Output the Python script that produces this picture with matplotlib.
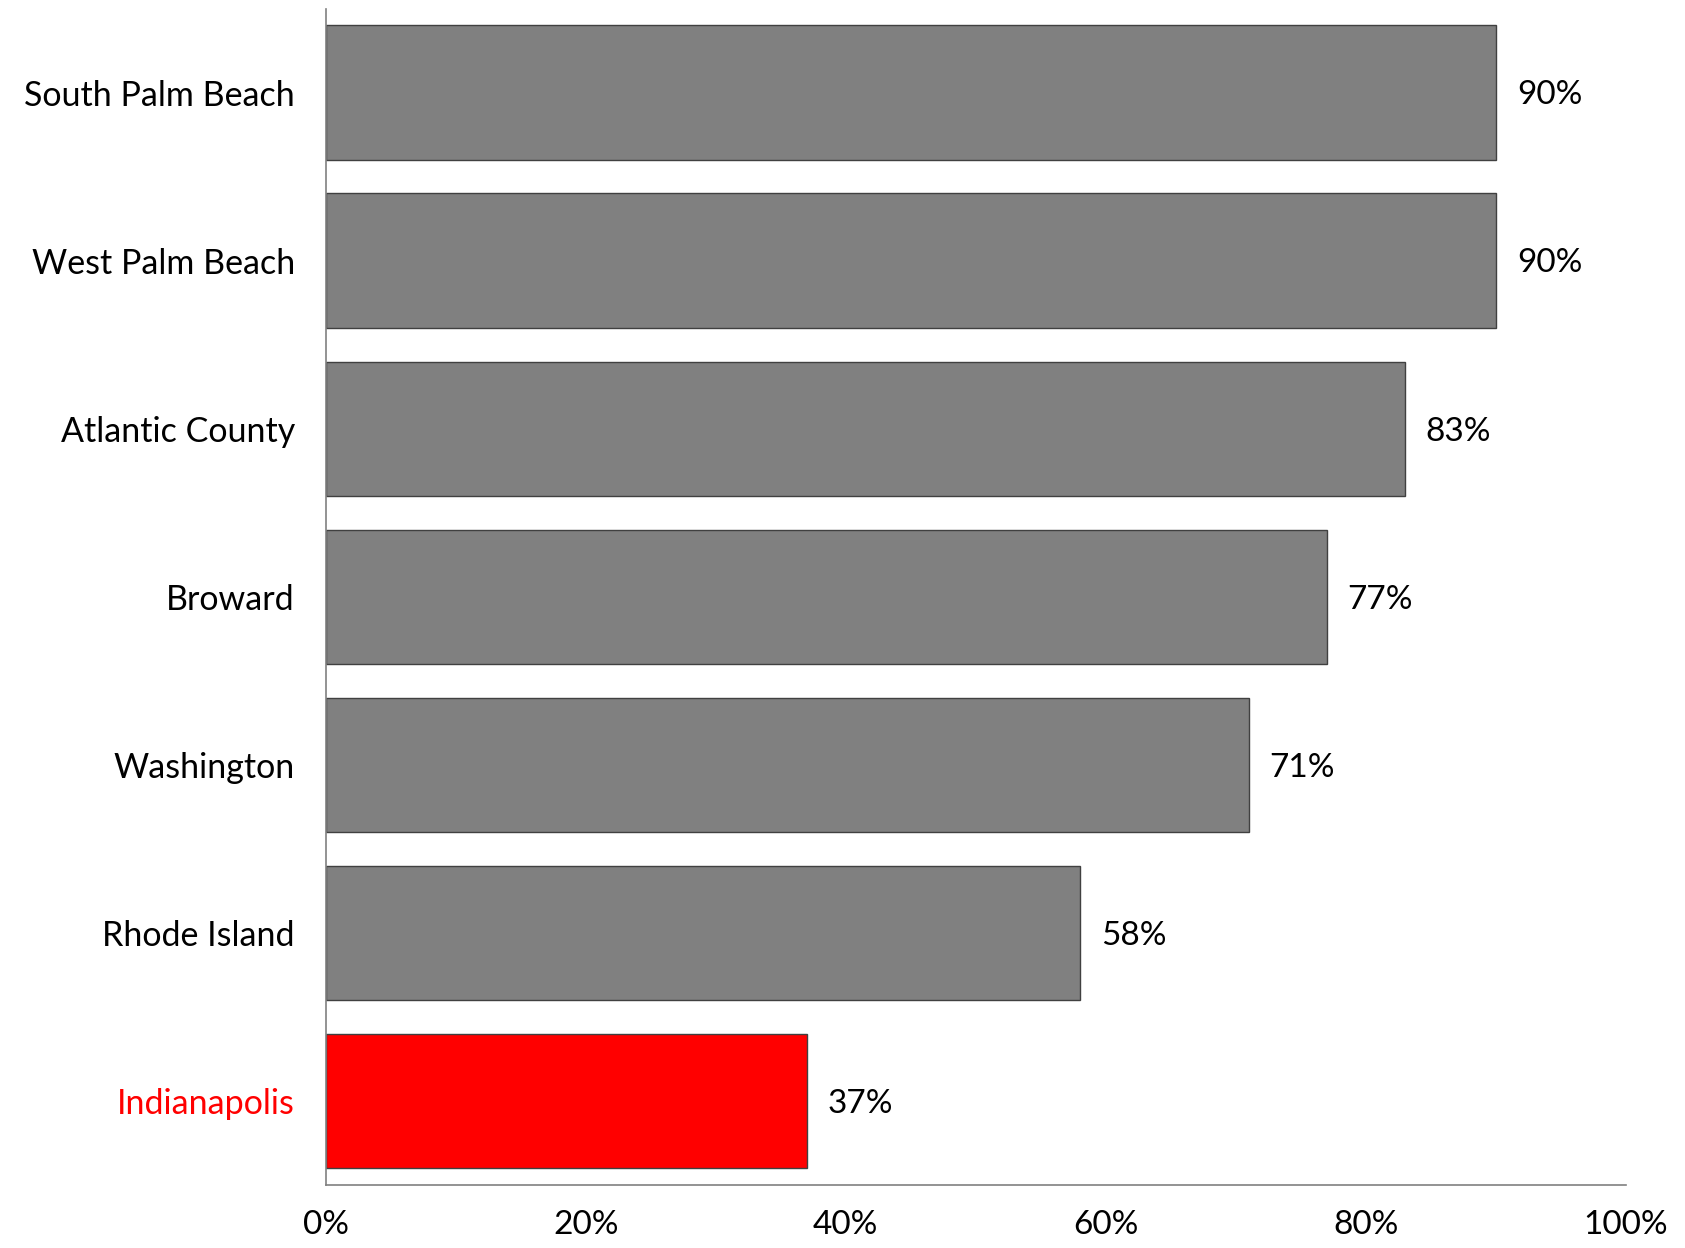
import matplotlib

matplotlib.use("Agg")
import matplotlib.pyplot as plt

plt.rcParams["font.family"] = ["Lato", "DejaVu Sans"]

CATEGORIES = [
    "South Palm Beach",
    "West Palm Beach",
    "Atlantic County",
    "Broward",
    "Washington",
    "Rhode Island",
    "Indianapolis",
]
VALUES = [90, 90, 83, 77, 71, 58, 37]
HIGHLIGHT = "Indianapolis"
X_TICKS = [0, 20, 40, 60, 80, 100]


def main():
    fig = plt.figure(figsize=(16.85, 12.48), dpi=100)
    ax = fig.add_axes([0.1932, 0.0505, 0.7718, 0.9426])

    ypos = list(range(len(CATEGORIES)))
    colors = ["#FF0000" if c == HIGHLIGHT else "#808080" for c in CATEGORIES]
    ax.barh(ypos, VALUES, height=0.8, color=colors, edgecolor="#404040", linewidth=1.0)

    for y, v in zip(ypos, VALUES):
        ax.annotate(f"{v}%", xy=(v, y), xytext=(15, -2), textcoords="offset points",
                    va="center", ha="left", fontsize=24, color="black")

    ax.set_ylim(len(CATEGORIES) - 0.5, -0.5)
    ax.set_xlim(0, 100)
    ax.set_yticks(ypos)
    ax.set_yticklabels(CATEGORIES, fontsize=24.5)
    for lab in ax.get_yticklabels():
        if lab.get_text() == HIGHLIGHT:
            lab.set_color("#FF0000")
    ax.set_xticks(X_TICKS)
    ax.set_xticklabels([f"{t}%" for t in X_TICKS], fontsize=24)

    ax.tick_params(axis="y", length=0, pad=22)
    ax.tick_params(axis="x", length=0, pad=18)
    for side in ("top", "right"):
        ax.spines[side].set_visible(False)
    for side in ("left", "bottom"):
        ax.spines[side].set_color("#808080")
        ax.spines[side].set_linewidth(1.2)

    fig.savefig("out.png", dpi=100)


if __name__ == "__main__":
    main()
